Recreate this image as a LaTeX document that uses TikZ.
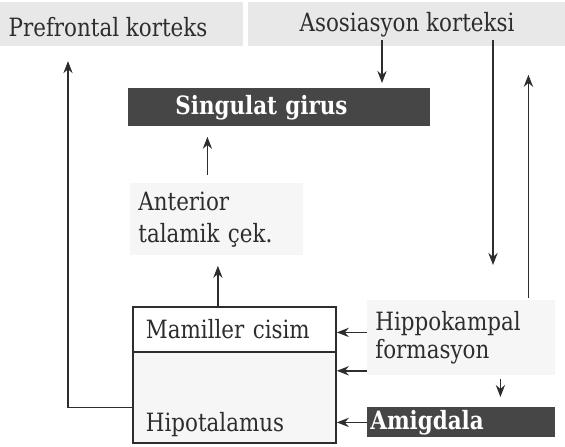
\documentclass[tikz,border=0pt]{standalone}
\usepackage{fontspec}
\setmainfont{DejaVu Serif}[FakeStretch=0.85]
\usetikzlibrary{arrows.meta}
\definecolor{ink}{RGB}{45,45,45}
\definecolor{slab}{RGB}{70,70,70}
\definecolor{paper}{RGB}{232,232,232}
\definecolor{haze}{RGB}{246,246,246}
\tikzset{
  >={Stealth[length=6pt,width=4.6pt]},
  lbl/.style={font=\fontsize{12.6}{14}\selectfont,text=ink,inner sep=0pt},
  slab/.style={fill=slab,text=white,font=\fontsize{12.6}{14}\selectfont\bfseries,
    anchor=north west,align=left,inner ysep=0pt},
  pane/.style={fill=haze,text=ink,anchor=north west,align=left,
    font=\fontsize{12.6}{#1}\selectfont},
  pane/.default=16,
  cell/.style={draw=ink,line width=0.9pt,text=ink,anchor=north west,align=left,
    font=\fontsize{12.6}{14}\selectfont,minimum width=101.5pt,
    inner xsep=6.5pt,text width=88.5pt},
  flow/.style={->,draw=ink,line width=0.85pt},
}
\begin{document}
\begin{tikzpicture}[x=0.5pt,y=-0.5pt]
  \useasboundingbox (0,0) rectangle (565,446);
  % header bands
  \fill[paper] (0,2) rectangle (243,46);
  \fill[paper] (248,2) rectangle (565,46);
  \node[lbl] (pref) at (108,27) {Prefrontal korteks};
  \node[lbl] (asso) at (407,25) {Asosiasyon korteksi};

  \node[slab,minimum height=19pt,inner xsep=23.5pt,text width=104pt] (sing) at (128,88) {Singulat girus};
  \node[pane,inner xsep=4pt,text width=78.5pt,minimum height=36pt] (ant) at (130,183) {Anterior\\talamik çek.};
  \node[cell,minimum height=22.5pt] (mam) at (132,306) {Mamiller cisim};
  \node[cell,fill=haze,inner ysep=0pt,text height=40pt,text depth=5.5pt] (hipo) at (132,351) {Hipotalamus};
  \node[pane=14,inner xsep=4pt,text width=86pt,minimum height=37.5pt] (hippo) at (367,300) {Hippokampal\\formasyon};
  \node[slab,minimum height=15pt,inner xsep=1.5pt,text width=91pt] (amig) at (367,407) {Amigdala};

  \draw[flow,shorten <=1pt,shorten >=2.5pt] ([xshift=-12.5pt]asso.south) -- ([xshift=-12.5pt]asso.south |- sing.north);
  \draw[flow,shorten <=4pt,shorten >=5pt] ([xshift=-4.75pt]ant.north) -- ([xshift=-4.75pt]ant.north |- sing.south);
  \draw[flow,shorten >=5pt] ([xshift=-8.25pt]mam.north) -- ([xshift=-8.25pt]mam.north |- ant.south);
  \draw[flow,shorten >=12pt] ([yshift=-5pt]hipo.west) -| ([xshift=-20pt]pref.south);
  \draw[flow,shorten <=1pt,shorten >=17.5pt] ([xshift=43pt]asso.south) -- ([xshift=43pt]asso.south |- hippo.north);
  \draw[flow,shorten <=1pt,shorten >=18.5pt] ([xshift=33.5pt]hippo.north) -- ([xshift=33.5pt]hippo.north |- asso.south);
  \draw[flow,shorten <=1.5pt,shorten >=5pt] ([xshift=19.5pt]hippo.south) -- ([xshift=19.5pt]amig.north);
  \draw[flow] ([yshift=-1.5pt]hippo.west |- mam.east) -- ([yshift=-1.5pt]mam.east);
  \draw[flow] ([yshift=2.5pt]hippo.south west) -- ([yshift=2.5pt]hippo.south west -| hipo.east);
  \draw[flow] (amig.west) -- (amig.west -| hipo.east);
\end{tikzpicture}
\end{document}
